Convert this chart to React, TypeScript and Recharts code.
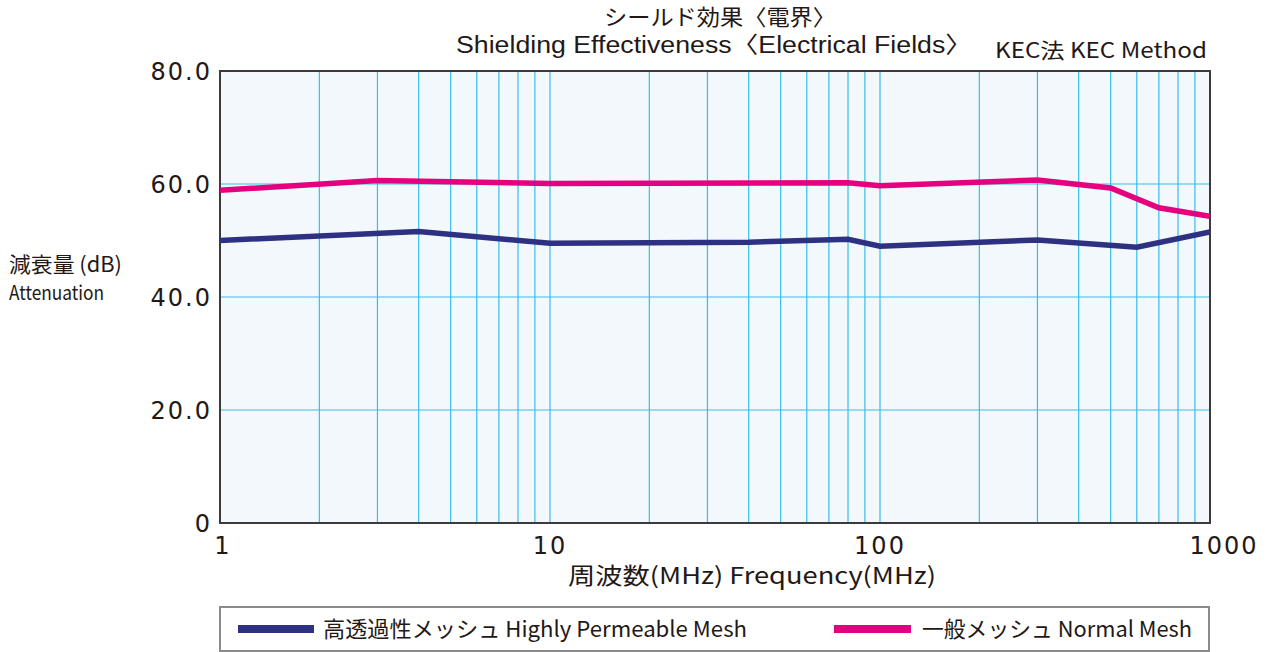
import React from 'react';
import { LineChart, Line, XAxis, YAxis, CartesianGrid, ReferenceArea } from 'recharts';

// ---- data ----
const xTicks = [1, 2, 3, 4, 5, 6, 7, 8, 9, 10, 20, 30, 40, 50, 60, 70, 80, 90, 100, 200, 300, 400, 500, 600, 700, 800, 900, 1000];
const xLabelTicks = [1, 10, 100, 1000];
const yTicks = [0, 20, 40, 60, 80];

const highlyFreq = [1, 4, 10, 40, 80, 100, 300, 600, 1000];
const highlyDb = [50.0, 51.6, 49.5, 49.7, 50.2, 49.0, 50.1, 48.8, 51.5];

const normalFreq = [1, 3, 10, 80, 100, 300, 500, 700, 1000];
const normalDb = [58.9, 60.6, 60.1, 60.2, 59.7, 60.7, 59.3, 55.8, 54.3];

const seriesNames = ['高透過性メッシュ Highly Permeable Mesh', '一般メッシュ Normal Mesh'];

const highlyData = highlyFreq.map((f, i) => ({ freq: f, db: highlyDb[i] }));
const normalData = normalFreq.map((f, i) => ({ freq: f, db: normalDb[i] }));

const NAVY = '#2e3182';
const PINK = '#e4007f';
const TEXT = '#231815';
const GRID = '#38bdec';
const CJK = '"Noto Sans CJK JP", "Noto Sans", sans-serif';
const LATIN = '"Liberation Sans", "Noto Sans CJK JP", sans-serif';
const NUM = '"DejaVu Sans", sans-serif';

const XTick = (props: any) => {
  const { x, y, payload } = props;
  const v = payload.value;
  if (!xLabelTicks.includes(v)) return null;
  const shift = v === 1 ? 3 : v === 1000 ? 14 : 0;
  return (
    <text x={x + shift} y={y} dy="0.71em" textAnchor="middle" fill={TEXT}
      style={{ fontFamily: NUM, fontSize: 24, letterSpacing: 2 }}>
      {String(v)}
    </text>
  );
};

const YTick = (props: any) => {
  const { x, y, payload } = props;
  const v = payload.value;
  return (
    <text x={x + 2} y={y} dy="0.355em" textAnchor="end" fill={TEXT}
      style={{ fontFamily: NUM, fontSize: 24, letterSpacing: 2 }}>
      {v === 0 ? '0' : v.toFixed(1)}
    </text>
  );
};

export default function App() {
  return (
    <div style={{ position: 'absolute', left: 0, top: 0, width: 1269, height: 652, background: '#fff' }}>
      <LineChart width={1269} height={652} margin={{ top: 71, right: 59, left: 140, bottom: 89 }}>
        <CartesianGrid stroke={GRID} strokeWidth={1.2} fill="#f3f8fc" />
        <XAxis dataKey="freq" type="number" scale="log" domain={[1, 1000]} ticks={xTicks}
          allowDataOverflow height={40} tickLine={false} axisLine={false} tickSize={12}
          tick={<XTick />} interval={0} />
        <YAxis type="number" domain={[0, 80]} ticks={yTicks} width={80} tickLine={false}
          axisLine={false} tickSize={8} tick={<YTick />} interval={0} />
        <ReferenceArea x1={1} x2={1000} y1={0} y2={80} fill="none" fillOpacity={0}
          stroke="#3e3a39" strokeWidth={2} ifOverflow="visible" />
        <Line data={highlyData} dataKey="db" type="linear" stroke={NAVY} strokeWidth={5.5}
          dot={false} activeDot={false} isAnimationActive={false} />
        <Line data={normalData} dataKey="db" type="linear" stroke={PINK} strokeWidth={5.5}
          dot={false} activeDot={false} isAnimationActive={false} />
      </LineChart>
      <svg width={1269} height={652} style={{ position: 'absolute', left: 0, top: 0, pointerEvents: 'none' }}>
        <g fill={TEXT} style={{ fontFamily: CJK }}>
          <text x={604} y={25} fontSize={22} textLength={232} lengthAdjust="spacingAndGlyphs">シールド効果〈電界〉</text>
          <text x={456} y={53} fontSize={23} textLength={516} lengthAdjust="spacingAndGlyphs" style={{ fontFamily: LATIN }}>Shielding Effectiveness〈Electrical Fields〉</text>
          <text x={995} y={58} fontSize={21} textLength={212} lengthAdjust="spacingAndGlyphs">KEC法 KEC Method</text>
          <text x={9} y={272} fontSize={21} textLength={113} lengthAdjust="spacingAndGlyphs">減衰量 (dB)</text>
          <text x={9} y={300} fontSize={20} textLength={95} lengthAdjust="spacingAndGlyphs">Attenuation</text>
          <text x={568} y={584} fontSize={23} textLength={368} lengthAdjust="spacingAndGlyphs">周波数(MHz) Frequency(MHz)</text>
        </g>
        <rect x={220} y={607} width={989} height={44} fill="#fff" stroke="#8a8a8a" strokeWidth={2} />
        <rect x={238} y={625} width={76} height={8} fill={NAVY} />
        <rect x={834} y={625} width={77} height={8} fill={PINK} />
        <g fill={TEXT} style={{ fontFamily: CJK }}>
          <text x={323} y={637} fontSize={22} textLength={424} lengthAdjust="spacingAndGlyphs">{seriesNames[0]}</text>
          <text x={922} y={637} fontSize={22} textLength={270} lengthAdjust="spacingAndGlyphs">{seriesNames[1]}</text>
        </g>
      </svg>
    </div>
  );
}
